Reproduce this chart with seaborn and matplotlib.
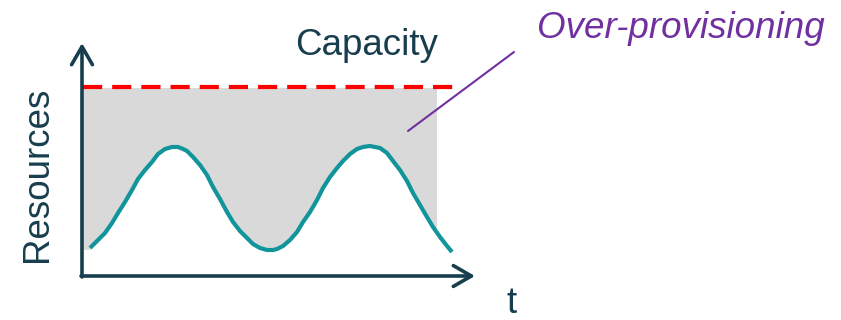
import matplotlib.pyplot as plt
import seaborn as sns
import pandas as pd

# --- data (t = time, r = resources; origin at the axis corner) ---
load_t = [8, 16, 23, 30, 36, 43, 50, 56, 63, 70, 76, 83, 90, 96, 101, 105, 111, 118, 125, 131,
          138, 145, 151, 158, 165, 171, 178, 185, 191, 195, 201, 208, 215, 221, 228, 235, 241,
          248, 255, 261, 268, 275, 281, 288, 298, 305, 311, 318, 325, 331, 338, 345, 351, 358,
          365, 370]
load_r = [28, 36, 43, 53, 63, 74, 86, 97, 106, 114, 122, 127, 129, 129, 127, 125, 119, 111, 101, 89,
          77, 64, 54, 45, 38, 32, 28, 26, 26, 27, 30, 36, 44, 54, 64, 76, 88,
          99, 108, 115, 122, 127, 129, 130, 128, 123, 115, 106, 95, 83, 71, 59, 49, 39,
          30, 24]

capacity = 189          # red dashed capacity level
capacity_t = [1, 378]   # extent of the capacity line
gap_t = [1, 355]        # extent of the over-provisioned (grey) area
gap_top = 188
gap_floor = 26

axis_x_end = 393
axis_y_end = 233

dark = "#183E4E"
teal = "#11959B"
purple = "#7030A0"

sns.set_style("white")
plt.rcParams['font.family'] = ['Liberation Sans', 'DejaVu Sans']

fig = plt.figure(figsize=(8.41, 3.20), dpi=100)
ax = fig.add_axes([0, 0, 1, 1])
ax.set_xlim(-82, 759)
ax.set_ylim(-44, 276)
ax.axis('off')

# grey over-provisioning block, with the area under the load cut away
ax.fill_between(gap_t, gap_floor, gap_top, color="#D9D9D9", lw=0, zorder=1)
ax.fill_between(load_t, gap_floor - 2, load_r, color="white", lw=0, zorder=2)

# capacity line
ax.hlines(capacity, capacity_t[0], capacity_t[1], colors="#FF0000", lw=3,
          linestyles=(0, (4.6, 2.4)), zorder=3)

# load curve
df = pd.DataFrame({"t": load_t, "r": load_r})
sns.lineplot(data=df, x="t", y="r", ax=ax, color=teal, lw=3, zorder=4,
             solid_capstyle='butt', solid_joinstyle='round')
ax.set_xlabel("")
ax.set_ylabel("")

# axes with open arrow heads
arrow = dict(arrowstyle="->, head_length=1.3, head_width=0.75", color=dark, lw=2.6,
             shrinkA=0, shrinkB=0, mutation_scale=10)
ax.annotate("", xy=(0, axis_y_end), xytext=(0, -1), arrowprops=arrow, zorder=5)
ax.annotate("", xy=(axis_x_end, 0), xytext=(-1, 0), arrowprops=arrow, zorder=5)

# labels
ax.text(-35, 102, "Resources", rotation=90, rotation_mode='anchor', ha='center',
        va='baseline', fontsize=26.5, color=dark)
ax.text(430, -37, "t", ha='center', va='baseline', fontsize=26.5, color=dark)
ax.text(213, 221, "Capacity", ha='left', va='baseline', fontsize=26.5, color=dark)
ax.text(455, 238, "Over-provisioning", ha='left', va='baseline', fontsize=26.5,
        style='italic', color=purple)

# pointer to the grey area
ax.annotate("", xy=(326, 145), xytext=(432, 224),
            arrowprops=dict(arrowstyle="-", color=purple, lw=1.5, shrinkA=0, shrinkB=0))

fig.savefig("out.png", dpi=100)
